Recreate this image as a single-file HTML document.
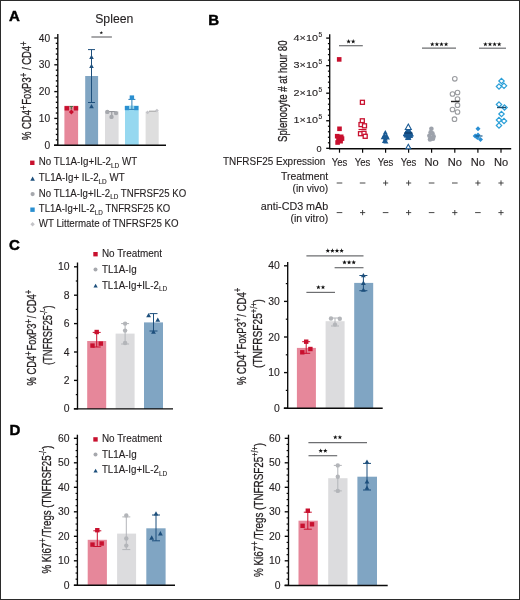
<!DOCTYPE html>
<html><head><meta charset="utf-8"><style>
html,body{margin:0;padding:0;background:#fff;}
svg{display:block;font-family:"Liberation Sans", sans-serif;will-change:transform;}
</style></head><body>
<svg width="520" height="600" viewBox="0 0 520 600">
<rect x="0" y="0" width="520" height="600" fill="#ffffff"/>
<rect x="64.40" y="105.80" width="13.70" height="39.20" fill="#e6879a"/>
<rect x="85.20" y="76.00" width="12.90" height="69.00" fill="#80a5c3"/>
<rect x="105.00" y="111.40" width="13.60" height="33.60" fill="#dcdcde"/>
<rect x="125.00" y="105.60" width="13.70" height="39.40" fill="#96d8f0"/>
<rect x="145.60" y="111.60" width="13.10" height="33.40" fill="#dedede"/>
<rect x="87.20" y="341.00" width="19.00" height="68.00" fill="#e6879a"/>
<rect x="115.60" y="333.60" width="19.00" height="75.40" fill="#dcdcde"/>
<rect x="144.00" y="322.40" width="19.00" height="86.60" fill="#80a5c3"/>
<rect x="296.90" y="347.90" width="19.00" height="60.70" fill="#e6879a"/>
<rect x="325.60" y="321.20" width="19.00" height="87.40" fill="#dcdcde"/>
<rect x="354.20" y="282.90" width="19.00" height="125.70" fill="#80a5c3"/>
<rect x="87.70" y="539.80" width="19.20" height="45.40" fill="#e6879a"/>
<rect x="117.10" y="533.60" width="19.00" height="51.60" fill="#dcdcde"/>
<rect x="146.30" y="528.30" width="19.30" height="56.90" fill="#80a5c3"/>
<rect x="298.50" y="520.70" width="19.30" height="64.50" fill="#e6879a"/>
<rect x="328.20" y="478.20" width="19.30" height="107.00" fill="#dcdcde"/>
<rect x="357.40" y="476.70" width="19.60" height="108.50" fill="#80a5c3"/>
<text x="9.00" y="21.00" font-size="15.0" font-weight="bold" fill="#000" stroke="#000" stroke-width="0.45">A</text>
<text x="95.20" y="23.20" font-size="13" textLength="38.20" lengthAdjust="spacingAndGlyphs" fill="#231f20"  stroke="#231f20" stroke-width="0.12">Spleen</text>
<line x1="57.80" y1="34.00" x2="57.80" y2="145.80" stroke="#0a0a0a" stroke-width="1.35" />
<line x1="54.30" y1="145.20" x2="57.80" y2="145.20" stroke="#0a0a0a" stroke-width="1.35" />
<line x1="54.30" y1="118.40" x2="57.80" y2="118.40" stroke="#0a0a0a" stroke-width="1.35" />
<line x1="54.30" y1="91.60" x2="57.80" y2="91.60" stroke="#0a0a0a" stroke-width="1.35" />
<line x1="54.30" y1="64.80" x2="57.80" y2="64.80" stroke="#0a0a0a" stroke-width="1.35" />
<line x1="54.30" y1="38.00" x2="57.80" y2="38.00" stroke="#0a0a0a" stroke-width="1.35" />
<line x1="55.80" y1="139.84" x2="57.80" y2="139.84" stroke="#0a0a0a" stroke-width="1.35" />
<line x1="55.80" y1="134.48" x2="57.80" y2="134.48" stroke="#0a0a0a" stroke-width="1.35" />
<line x1="55.80" y1="129.12" x2="57.80" y2="129.12" stroke="#0a0a0a" stroke-width="1.35" />
<line x1="55.80" y1="123.76" x2="57.80" y2="123.76" stroke="#0a0a0a" stroke-width="1.35" />
<line x1="55.80" y1="113.04" x2="57.80" y2="113.04" stroke="#0a0a0a" stroke-width="1.35" />
<line x1="55.80" y1="107.68" x2="57.80" y2="107.68" stroke="#0a0a0a" stroke-width="1.35" />
<line x1="55.80" y1="102.32" x2="57.80" y2="102.32" stroke="#0a0a0a" stroke-width="1.35" />
<line x1="55.80" y1="96.96" x2="57.80" y2="96.96" stroke="#0a0a0a" stroke-width="1.35" />
<line x1="55.80" y1="86.24" x2="57.80" y2="86.24" stroke="#0a0a0a" stroke-width="1.35" />
<line x1="55.80" y1="80.88" x2="57.80" y2="80.88" stroke="#0a0a0a" stroke-width="1.35" />
<line x1="55.80" y1="75.52" x2="57.80" y2="75.52" stroke="#0a0a0a" stroke-width="1.35" />
<line x1="55.80" y1="70.16" x2="57.80" y2="70.16" stroke="#0a0a0a" stroke-width="1.35" />
<line x1="55.80" y1="59.44" x2="57.80" y2="59.44" stroke="#0a0a0a" stroke-width="1.35" />
<line x1="55.80" y1="54.08" x2="57.80" y2="54.08" stroke="#0a0a0a" stroke-width="1.35" />
<line x1="55.80" y1="48.72" x2="57.80" y2="48.72" stroke="#0a0a0a" stroke-width="1.35" />
<line x1="55.80" y1="43.36" x2="57.80" y2="43.36" stroke="#0a0a0a" stroke-width="1.35" />
<text x="50.20" y="148.80" font-size="10.2" text-anchor="end" fill="#231f20"  stroke="#231f20" stroke-width="0.12">0</text>
<text x="50.20" y="122.00" font-size="10.2" text-anchor="end" fill="#231f20"  stroke="#231f20" stroke-width="0.12">10</text>
<text x="50.20" y="95.20" font-size="10.2" text-anchor="end" fill="#231f20"  stroke="#231f20" stroke-width="0.12">20</text>
<text x="50.20" y="68.40" font-size="10.2" text-anchor="end" fill="#231f20"  stroke="#231f20" stroke-width="0.12">30</text>
<text x="50.20" y="41.60" font-size="10.2" text-anchor="end" fill="#231f20"  stroke="#231f20" stroke-width="0.12">40</text>
<line x1="54.00" y1="145.30" x2="166.00" y2="145.30" stroke="#0a0a0a" stroke-width="1.5" />
<line x1="71.30" y1="106.20" x2="71.30" y2="109.50" stroke="#3c6e3c" stroke-width="1.0" />
<line x1="69.50" y1="106.50" x2="73.10" y2="106.50" stroke="#3c6e3c" stroke-width="0.9" />
<rect x="64.60" y="106.10" width="4.40" height="4.40" fill="#c8102e" />
<rect x="73.80" y="106.10" width="4.40" height="4.40" fill="#c8102e" />
<polygon points="71.40,109.50 73.90,112.00 71.40,114.50 68.90,112.00" fill="#c8102e"/>
<line x1="91.50" y1="49.60" x2="91.50" y2="102.50" stroke="#1d4f7c" stroke-width="1.0" />
<line x1="88.00" y1="49.60" x2="95.00" y2="49.60" stroke="#1d4f7c" stroke-width="1.0" />
<line x1="88.00" y1="102.50" x2="95.00" y2="102.50" stroke="#1d4f7c" stroke-width="1.0" />
<polygon points="91.50,54.82 93.80,58.96 89.20,58.96" fill="#1d4f7c"/>
<polygon points="91.50,63.82 93.80,67.96 89.20,67.96" fill="#1d4f7c"/>
<polygon points="91.50,104.02 93.80,108.16 89.20,108.16" fill="#1d4f7c"/>
<line x1="108.50" y1="111.60" x2="115.50" y2="111.60" stroke="#8d8f94" stroke-width="1.0" />
<line x1="111.80" y1="111.60" x2="111.80" y2="115.50" stroke="#8d8f94" stroke-width="1.0" />
<circle cx="107.30" cy="111.90" r="2.20" fill="#a6a8ad"/>
<circle cx="116.00" cy="113.10" r="2.20" fill="#a6a8ad"/>
<circle cx="111.50" cy="116.90" r="2.20" fill="#a6a8ad"/>
<line x1="131.90" y1="99.40" x2="131.90" y2="109.40" stroke="#2f7fb5" stroke-width="1.0" />
<line x1="128.40" y1="99.40" x2="135.40" y2="99.40" stroke="#2f7fb5" stroke-width="1.0" />
<line x1="128.40" y1="109.40" x2="135.40" y2="109.40" stroke="#2f7fb5" stroke-width="1.0" />
<rect x="129.70" y="95.40" width="4.40" height="4.40" fill="#2a8fd0" />
<rect x="124.80" y="106.00" width="4.20" height="4.20" fill="#2a8fd0" />
<rect x="134.20" y="106.00" width="4.20" height="4.20" fill="#2a8fd0" />
<line x1="149.00" y1="111.20" x2="156.00" y2="111.20" stroke="#9a9a9a" stroke-width="1.0" />
<polygon points="147.60,110.50 149.50,112.40 147.60,114.30 145.70,112.40" fill="#c4c4c8"/>
<polygon points="156.90,108.70 158.80,110.60 156.90,112.50 155.00,110.60" fill="#c4c4c8"/>
<line x1="91.40" y1="37.00" x2="111.90" y2="37.00" stroke="#6d6e71" stroke-width="1.2" />
<polygon points="101.30,30.90 101.77,32.15 103.11,32.21 102.06,33.05 102.42,34.34 101.30,33.60 100.18,34.34 100.54,33.05 99.49,32.21 100.83,32.15" fill="#111"/>
<rect x="30.10" y="160.60" width="4.40" height="4.40" fill="#c8102e" />
<polygon points="32.60,176.52 34.90,180.66 30.30,180.66" fill="#1d4f7c"/>
<circle cx="32.60" cy="194.10" r="2.10" fill="#a6a8ad"/>
<rect x="30.30" y="207.50" width="4.40" height="4.40" fill="#2a8fd0" />
<polygon points="32.60,222.10 34.80,224.30 32.60,226.50 30.40,224.30" fill="#c4c4c8"/>
<text x="38.80" y="165.40" font-size="10.0" textLength="98.30" lengthAdjust="spacingAndGlyphs" fill="#231f20"  stroke="#231f20" stroke-width="0.12">No TL1A-Ig+IL-2<tspan dy="2.6" font-size="6.6">LD</tspan><tspan dy="-2.6"> </tspan>WT</text>
<text x="38.80" y="181.00" font-size="10.0" textLength="85.80" lengthAdjust="spacingAndGlyphs" fill="#231f20"  stroke="#231f20" stroke-width="0.12">TL1A-Ig+ IL-2<tspan dy="2.6" font-size="6.6">LD</tspan><tspan dy="-2.6"> </tspan>WT</text>
<text x="38.80" y="196.70" font-size="10.0" textLength="147.40" lengthAdjust="spacingAndGlyphs" fill="#231f20"  stroke="#231f20" stroke-width="0.12">No TL1A-Ig+IL-2<tspan dy="2.6" font-size="6.6">LD</tspan><tspan dy="-2.6"> </tspan>TNFRSF25 KO</text>
<text x="38.80" y="212.30" font-size="10.0" textLength="131.40" lengthAdjust="spacingAndGlyphs" fill="#231f20"  stroke="#231f20" stroke-width="0.12">TL1A-Ig+IL-2<tspan dy="2.6" font-size="6.6">LD</tspan><tspan dy="-2.6"> </tspan>TNFRSF25 KO</text>
<text x="38.80" y="227.10" font-size="10.0" textLength="139.80" lengthAdjust="spacingAndGlyphs" fill="#231f20"  stroke="#231f20" stroke-width="0.12">WT Littermate of TNFRSF25 KO</text>
<text transform="translate(30.60,140.00) rotate(-90)" font-size="12.6" textLength="99.50" lengthAdjust="spacingAndGlyphs" fill="#231f20"  stroke="#231f20" stroke-width="0.3">% CD4<tspan dy="-4.0" font-size="10.5">+</tspan><tspan dy="4.0"> </tspan>FoxP3<tspan dy="-4.0" font-size="10.5">+</tspan><tspan dy="4.0"> </tspan>/ CD4<tspan dy="-4.0" font-size="10.5">+</tspan><tspan dy="4.0"> </tspan></text>
<text x="208.30" y="24.60" font-size="15.0" font-weight="bold" fill="#000" stroke="#000" stroke-width="0.45">B</text>
<line x1="329.70" y1="34.20" x2="329.70" y2="148.90" stroke="#0a0a0a" stroke-width="1.35" />
<line x1="326.20" y1="148.30" x2="329.70" y2="148.30" stroke="#0a0a0a" stroke-width="1.35" />
<line x1="326.20" y1="120.75" x2="329.70" y2="120.75" stroke="#0a0a0a" stroke-width="1.35" />
<line x1="326.20" y1="93.20" x2="329.70" y2="93.20" stroke="#0a0a0a" stroke-width="1.35" />
<line x1="326.20" y1="65.65" x2="329.70" y2="65.65" stroke="#0a0a0a" stroke-width="1.35" />
<line x1="326.20" y1="38.10" x2="329.70" y2="38.10" stroke="#0a0a0a" stroke-width="1.35" />
<line x1="327.90" y1="142.79" x2="329.70" y2="142.79" stroke="#0a0a0a" stroke-width="1.2" />
<line x1="327.90" y1="137.28" x2="329.70" y2="137.28" stroke="#0a0a0a" stroke-width="1.2" />
<line x1="327.90" y1="131.77" x2="329.70" y2="131.77" stroke="#0a0a0a" stroke-width="1.2" />
<line x1="327.90" y1="126.26" x2="329.70" y2="126.26" stroke="#0a0a0a" stroke-width="1.2" />
<line x1="327.90" y1="115.24" x2="329.70" y2="115.24" stroke="#0a0a0a" stroke-width="1.2" />
<line x1="327.90" y1="109.73" x2="329.70" y2="109.73" stroke="#0a0a0a" stroke-width="1.2" />
<line x1="327.90" y1="104.22" x2="329.70" y2="104.22" stroke="#0a0a0a" stroke-width="1.2" />
<line x1="327.90" y1="98.71" x2="329.70" y2="98.71" stroke="#0a0a0a" stroke-width="1.2" />
<line x1="327.90" y1="87.69" x2="329.70" y2="87.69" stroke="#0a0a0a" stroke-width="1.2" />
<line x1="327.90" y1="82.18" x2="329.70" y2="82.18" stroke="#0a0a0a" stroke-width="1.2" />
<line x1="327.90" y1="76.67" x2="329.70" y2="76.67" stroke="#0a0a0a" stroke-width="1.2" />
<line x1="327.90" y1="71.16" x2="329.70" y2="71.16" stroke="#0a0a0a" stroke-width="1.2" />
<line x1="327.90" y1="60.14" x2="329.70" y2="60.14" stroke="#0a0a0a" stroke-width="1.2" />
<line x1="327.90" y1="54.63" x2="329.70" y2="54.63" stroke="#0a0a0a" stroke-width="1.2" />
<line x1="327.90" y1="49.12" x2="329.70" y2="49.12" stroke="#0a0a0a" stroke-width="1.2" />
<line x1="327.90" y1="43.61" x2="329.70" y2="43.61" stroke="#0a0a0a" stroke-width="1.2" />
<text x="293.60" y="123.15" font-size="9.6" textLength="24.30" lengthAdjust="spacingAndGlyphs" fill="#231f20"  stroke="#231f20" stroke-width="0.12">1×10</text>
<text x="318.40" y="119.35" font-size="6.4" textLength="3.70" lengthAdjust="spacingAndGlyphs" fill="#231f20"  stroke="#231f20" stroke-width="0.12">5</text>
<text x="293.60" y="95.60" font-size="9.6" textLength="24.30" lengthAdjust="spacingAndGlyphs" fill="#231f20"  stroke="#231f20" stroke-width="0.12">2×10</text>
<text x="318.40" y="91.80" font-size="6.4" textLength="3.70" lengthAdjust="spacingAndGlyphs" fill="#231f20"  stroke="#231f20" stroke-width="0.12">5</text>
<text x="293.60" y="68.05" font-size="9.6" textLength="24.30" lengthAdjust="spacingAndGlyphs" fill="#231f20"  stroke="#231f20" stroke-width="0.12">3×10</text>
<text x="318.40" y="64.25" font-size="6.4" textLength="3.70" lengthAdjust="spacingAndGlyphs" fill="#231f20"  stroke="#231f20" stroke-width="0.12">5</text>
<text x="293.60" y="40.50" font-size="9.6" textLength="24.30" lengthAdjust="spacingAndGlyphs" fill="#231f20"  stroke="#231f20" stroke-width="0.12">4×10</text>
<text x="318.40" y="36.70" font-size="6.4" textLength="3.70" lengthAdjust="spacingAndGlyphs" fill="#231f20"  stroke="#231f20" stroke-width="0.12">5</text>
<text x="321.60" y="151.50" font-size="9.2" text-anchor="end" fill="#231f20"  stroke="#231f20" stroke-width="0.12">0</text>
<line x1="329.10" y1="148.70" x2="511.20" y2="148.70" stroke="#0a0a0a" stroke-width="1.45" />
<line x1="339.50" y1="148.70" x2="339.50" y2="152.70" stroke="#0a0a0a" stroke-width="1.2" />
<line x1="362.60" y1="148.70" x2="362.60" y2="152.70" stroke="#0a0a0a" stroke-width="1.2" />
<line x1="385.60" y1="148.70" x2="385.60" y2="152.70" stroke="#0a0a0a" stroke-width="1.2" />
<line x1="408.60" y1="148.70" x2="408.60" y2="152.70" stroke="#0a0a0a" stroke-width="1.2" />
<line x1="431.60" y1="148.70" x2="431.60" y2="152.70" stroke="#0a0a0a" stroke-width="1.2" />
<line x1="454.80" y1="148.70" x2="454.80" y2="152.70" stroke="#0a0a0a" stroke-width="1.2" />
<line x1="477.90" y1="148.70" x2="477.90" y2="152.70" stroke="#0a0a0a" stroke-width="1.2" />
<line x1="501.00" y1="148.70" x2="501.00" y2="152.70" stroke="#0a0a0a" stroke-width="1.2" />
<text transform="translate(287.00,142.00) rotate(-90)" font-size="13.0" textLength="101.50" lengthAdjust="spacingAndGlyphs" fill="#231f20"  stroke="#231f20" stroke-width="0.3">Splenocyte # at hour 80</text>
<line x1="339.00" y1="45.70" x2="362.80" y2="45.70" stroke="#6d6e71" stroke-width="1.2" />
<polygon points="348.60,39.10 349.19,40.68 350.88,40.76 349.56,41.81 350.01,43.44 348.60,42.51 347.19,43.44 347.64,41.81 346.32,40.76 348.01,40.68" fill="#111"/>
<polygon points="353.20,39.10 353.79,40.68 355.48,40.76 354.16,41.81 354.61,43.44 353.20,42.51 351.79,43.44 352.24,41.81 350.92,40.76 352.61,40.68" fill="#111"/>
<line x1="422.00" y1="48.20" x2="456.00" y2="48.20" stroke="#6d6e71" stroke-width="1.2" />
<polygon points="432.30,41.90 432.89,43.48 434.58,43.56 433.26,44.61 433.71,46.24 432.30,45.31 430.89,46.24 431.34,44.61 430.02,43.56 431.71,43.48" fill="#111"/>
<polygon points="436.90,41.90 437.49,43.48 439.18,43.56 437.86,44.61 438.31,46.24 436.90,45.31 435.49,46.24 435.94,44.61 434.62,43.56 436.31,43.48" fill="#111"/>
<polygon points="441.50,41.90 442.09,43.48 443.78,43.56 442.46,44.61 442.91,46.24 441.50,45.31 440.09,46.24 440.54,44.61 439.22,43.56 440.91,43.48" fill="#111"/>
<polygon points="446.10,41.90 446.69,43.48 448.38,43.56 447.06,44.61 447.51,46.24 446.10,45.31 444.69,46.24 445.14,44.61 443.82,43.56 445.51,43.48" fill="#111"/>
<line x1="479.00" y1="48.20" x2="506.00" y2="48.20" stroke="#6d6e71" stroke-width="1.2" />
<polygon points="485.40,41.90 485.99,43.48 487.68,43.56 486.36,44.61 486.81,46.24 485.40,45.31 483.99,46.24 484.44,44.61 483.12,43.56 484.81,43.48" fill="#111"/>
<polygon points="490.00,41.90 490.59,43.48 492.28,43.56 490.96,44.61 491.41,46.24 490.00,45.31 488.59,46.24 489.04,44.61 487.72,43.56 489.41,43.48" fill="#111"/>
<polygon points="494.60,41.90 495.19,43.48 496.88,43.56 495.56,44.61 496.01,46.24 494.60,45.31 493.19,46.24 493.64,44.61 492.32,43.56 494.01,43.48" fill="#111"/>
<polygon points="499.20,41.90 499.79,43.48 501.48,43.56 500.16,44.61 500.61,46.24 499.20,45.31 497.79,46.24 498.24,44.61 496.92,43.56 498.61,43.48" fill="#111"/>
<rect x="337.20" y="126.50" width="4.60" height="4.60" fill="#c8102e" />
<rect x="334.90" y="133.90" width="4.60" height="4.60" fill="#c8102e" />
<rect x="338.90" y="134.50" width="4.60" height="4.60" fill="#c8102e" />
<rect x="336.20" y="136.90" width="4.60" height="4.60" fill="#c8102e" />
<rect x="338.30" y="138.90" width="4.60" height="4.60" fill="#c8102e" />
<rect x="335.30" y="140.20" width="4.60" height="4.60" fill="#c8102e" />
<rect x="339.70" y="136.30" width="4.60" height="4.60" fill="#c8102e" />
<rect x="336.90" y="57.10" width="4.60" height="4.60" fill="#c8102e" />
<rect x="360.40" y="100.30" width="4.00" height="4.00" fill="#fff" stroke="#c8102e" stroke-width="1.3"/>
<rect x="360.30" y="118.80" width="4.00" height="4.00" fill="#fff" stroke="#c8102e" stroke-width="1.3"/>
<rect x="359.00" y="122.60" width="4.00" height="4.00" fill="#fff" stroke="#c8102e" stroke-width="1.3"/>
<rect x="362.50" y="123.80" width="4.00" height="4.00" fill="#fff" stroke="#c8102e" stroke-width="1.3"/>
<rect x="358.50" y="131.70" width="4.00" height="4.00" fill="#fff" stroke="#c8102e" stroke-width="1.3"/>
<rect x="362.00" y="131.30" width="4.00" height="4.00" fill="#fff" stroke="#c8102e" stroke-width="1.3"/>
<rect x="363.20" y="134.30" width="4.00" height="4.00" fill="#fff" stroke="#c8102e" stroke-width="1.3"/>
<line x1="358.50" y1="129.50" x2="366.50" y2="129.50" stroke="#c8102e" stroke-width="1.2" />
<polygon points="385.30,129.90 387.80,134.40 382.80,134.40" fill="#1a5a94"/>
<polygon points="384.30,132.90 386.80,137.40 381.80,137.40" fill="#1a5a94"/>
<polygon points="386.40,133.20 388.90,137.70 383.90,137.70" fill="#1a5a94"/>
<polygon points="385.30,135.90 387.80,140.40 382.80,140.40" fill="#1a5a94"/>
<polygon points="384.40,138.50 386.90,143.00 381.90,143.00" fill="#1a5a94"/>
<polygon points="385.90,138.90 388.40,143.40 383.40,143.40" fill="#1a5a94"/>
<polygon points="383.20,134.80 385.70,139.30 380.70,139.30" fill="#1a5a94"/>
<polygon points="387.40,135.10 389.90,139.60 384.90,139.60" fill="#1a5a94"/>
<polygon points="407.30,128.68 410.00,133.54 404.60,133.54" fill="#1a5a94" stroke="#1a5a94" stroke-width="1.0" stroke-linejoin="miter"/>
<polygon points="409.50,129.28 412.20,134.14 406.80,134.14" fill="#1a5a94" stroke="#1a5a94" stroke-width="1.0" stroke-linejoin="miter"/>
<polygon points="407.00,132.28 409.70,137.14 404.30,137.14" fill="#1a5a94" stroke="#1a5a94" stroke-width="1.0" stroke-linejoin="miter"/>
<polygon points="409.80,132.68 412.50,137.54 407.10,137.54" fill="#1a5a94" stroke="#1a5a94" stroke-width="1.0" stroke-linejoin="miter"/>
<polygon points="408.20,134.68 410.90,139.54 405.50,139.54" fill="#1a5a94" stroke="#1a5a94" stroke-width="1.0" stroke-linejoin="miter"/>
<polygon points="406.00,131.08 408.70,135.94 403.30,135.94" fill="#1a5a94" stroke="#1a5a94" stroke-width="1.0" stroke-linejoin="miter"/>
<polygon points="410.60,131.28 413.30,136.14 407.90,136.14" fill="#1a5a94" stroke="#1a5a94" stroke-width="1.0" stroke-linejoin="miter"/>
<polygon points="408.30,124.06 411.30,129.46 405.30,129.46" fill="#fff" stroke="#1a5a94" stroke-width="1.1" stroke-linejoin="miter"/>
<polygon points="408.30,144.30 410.80,148.80 405.80,148.80" fill="#fff" stroke="#1a5a94" stroke-width="1.1" stroke-linejoin="miter"/>
<line x1="404.50" y1="133.00" x2="412.50" y2="133.00" stroke="#0e3a66" stroke-width="1.2" />
<circle cx="431.40" cy="128.80" r="2.30" fill="#9da2ab"/>
<circle cx="430.60" cy="132.40" r="2.30" fill="#9da2ab"/>
<circle cx="432.40" cy="133.20" r="2.30" fill="#9da2ab"/>
<circle cx="429.40" cy="135.80" r="2.30" fill="#9da2ab"/>
<circle cx="433.60" cy="136.40" r="2.30" fill="#9da2ab"/>
<circle cx="431.00" cy="138.40" r="2.30" fill="#9da2ab"/>
<circle cx="433.00" cy="138.80" r="2.30" fill="#9da2ab"/>
<circle cx="430.00" cy="139.40" r="2.30" fill="#9da2ab"/>
<circle cx="454.80" cy="78.80" r="2.30" fill="#fff" stroke="#9a9ca0" stroke-width="1.1"/>
<circle cx="452.50" cy="94.00" r="2.30" fill="#fff" stroke="#9a9ca0" stroke-width="1.1"/>
<circle cx="457.50" cy="92.50" r="2.30" fill="#fff" stroke="#9a9ca0" stroke-width="1.1"/>
<circle cx="457.50" cy="99.00" r="2.30" fill="#fff" stroke="#9a9ca0" stroke-width="1.1"/>
<circle cx="457.50" cy="105.20" r="2.30" fill="#fff" stroke="#9a9ca0" stroke-width="1.1"/>
<circle cx="452.50" cy="109.50" r="2.30" fill="#fff" stroke="#9a9ca0" stroke-width="1.1"/>
<circle cx="457.50" cy="112.00" r="2.30" fill="#fff" stroke="#9a9ca0" stroke-width="1.1"/>
<circle cx="454.50" cy="119.20" r="2.30" fill="#fff" stroke="#9a9ca0" stroke-width="1.1"/>
<line x1="451.00" y1="101.50" x2="459.50" y2="101.50" stroke="#222" stroke-width="1.4" />
<polygon points="478.00,126.20 480.50,128.70 478.00,131.20 475.50,128.70" fill="#2a8fd4"/>
<polygon points="475.20,133.50 477.70,136.00 475.20,138.50 472.70,136.00" fill="#2a8fd4"/>
<polygon points="478.00,132.60 480.50,135.10 478.00,137.60 475.50,135.10" fill="#2a8fd4"/>
<polygon points="480.50,137.00 483.00,139.50 480.50,142.00 478.00,139.50" fill="#2a8fd4"/>
<polygon points="477.40,135.10 479.90,137.60 477.40,140.10 474.90,137.60" fill="#2a8fd4"/>
<line x1="475.50" y1="136.00" x2="482.50" y2="136.00" stroke="#1b5d8c" stroke-width="1.2" />
<polygon points="501.50,78.30 504.20,81.00 501.50,83.70 498.80,81.00" fill="#fff" stroke="#2a9fd8" stroke-width="1.2"/>
<polygon points="499.00,83.80 501.70,86.50 499.00,89.20 496.30,86.50" fill="#fff" stroke="#2a9fd8" stroke-width="1.2"/>
<polygon points="504.00,83.10 506.70,85.80 504.00,88.50 501.30,85.80" fill="#fff" stroke="#2a9fd8" stroke-width="1.2"/>
<polygon points="499.00,101.80 501.70,104.50 499.00,107.20 496.30,104.50" fill="#fff" stroke="#2a9fd8" stroke-width="1.2"/>
<polygon points="504.50,104.80 507.20,107.50 504.50,110.20 501.80,107.50" fill="#fff" stroke="#2a9fd8" stroke-width="1.2"/>
<polygon points="501.50,111.30 504.20,114.00 501.50,116.70 498.80,114.00" fill="#fff" stroke="#2a9fd8" stroke-width="1.2"/>
<polygon points="499.00,117.30 501.70,120.00 499.00,122.70 496.30,120.00" fill="#fff" stroke="#2a9fd8" stroke-width="1.2"/>
<polygon points="504.00,118.30 506.70,121.00 504.00,123.70 501.30,121.00" fill="#fff" stroke="#2a9fd8" stroke-width="1.2"/>
<polygon points="499.00,122.80 501.70,125.50 499.00,128.20 496.30,125.50" fill="#fff" stroke="#2a9fd8" stroke-width="1.2"/>
<line x1="497.00" y1="107.50" x2="506.00" y2="107.50" stroke="#1b4f70" stroke-width="1.4" />
<text x="339.50" y="165.60" font-size="10.2" text-anchor="middle" textLength="15.60" lengthAdjust="spacingAndGlyphs" fill="#231f20"  stroke="#231f20" stroke-width="0.12">Yes</text>
<text x="362.60" y="165.60" font-size="10.2" text-anchor="middle" textLength="15.60" lengthAdjust="spacingAndGlyphs" fill="#231f20"  stroke="#231f20" stroke-width="0.12">Yes</text>
<text x="385.60" y="165.60" font-size="10.2" text-anchor="middle" textLength="15.60" lengthAdjust="spacingAndGlyphs" fill="#231f20"  stroke="#231f20" stroke-width="0.12">Yes</text>
<text x="408.60" y="165.60" font-size="10.2" text-anchor="middle" textLength="15.60" lengthAdjust="spacingAndGlyphs" fill="#231f20"  stroke="#231f20" stroke-width="0.12">Yes</text>
<text x="431.60" y="165.60" font-size="10.2" text-anchor="middle" textLength="14.20" lengthAdjust="spacingAndGlyphs" fill="#231f20"  stroke="#231f20" stroke-width="0.12">No</text>
<text x="454.80" y="165.60" font-size="10.2" text-anchor="middle" textLength="14.20" lengthAdjust="spacingAndGlyphs" fill="#231f20"  stroke="#231f20" stroke-width="0.12">No</text>
<text x="477.90" y="165.60" font-size="10.2" text-anchor="middle" textLength="14.20" lengthAdjust="spacingAndGlyphs" fill="#231f20"  stroke="#231f20" stroke-width="0.12">No</text>
<text x="501.00" y="165.60" font-size="10.2" text-anchor="middle" textLength="14.20" lengthAdjust="spacingAndGlyphs" fill="#231f20"  stroke="#231f20" stroke-width="0.12">No</text>
<text x="325.20" y="165.40" font-size="10.2" text-anchor="end" textLength="102.20" lengthAdjust="spacingAndGlyphs" fill="#231f20"  stroke="#231f20" stroke-width="0.12">TNFRSF25 Expression</text>
<text x="328.20" y="179.60" font-size="10.2" text-anchor="end" textLength="47.30" lengthAdjust="spacingAndGlyphs" fill="#231f20"  stroke="#231f20" stroke-width="0.12">Treatment</text>
<text x="328.20" y="191.90" font-size="10.2" text-anchor="end" textLength="35.60" lengthAdjust="spacingAndGlyphs" fill="#231f20"  stroke="#231f20" stroke-width="0.12">(in vivo)</text>
<text x="328.20" y="209.80" font-size="10.2" text-anchor="end" textLength="67.40" lengthAdjust="spacingAndGlyphs" fill="#231f20"  stroke="#231f20" stroke-width="0.12">anti-CD3 mAb</text>
<text x="328.20" y="221.60" font-size="10.2" text-anchor="end" textLength="37.70" lengthAdjust="spacingAndGlyphs" fill="#231f20"  stroke="#231f20" stroke-width="0.12">(in vitro)</text>
<line x1="336.70" y1="183.00" x2="342.30" y2="183.00" stroke="#333" stroke-width="0.9" />
<line x1="336.70" y1="212.60" x2="342.30" y2="212.60" stroke="#333" stroke-width="0.9" />
<line x1="359.80" y1="183.00" x2="365.40" y2="183.00" stroke="#333" stroke-width="0.9" />
<line x1="360.00" y1="212.60" x2="365.20" y2="212.60" stroke="#333" stroke-width="0.9" />
<line x1="362.60" y1="210.00" x2="362.60" y2="215.20" stroke="#333" stroke-width="0.9" />
<line x1="383.00" y1="183.00" x2="388.20" y2="183.00" stroke="#333" stroke-width="0.9" />
<line x1="385.60" y1="180.40" x2="385.60" y2="185.60" stroke="#333" stroke-width="0.9" />
<line x1="382.80" y1="212.60" x2="388.40" y2="212.60" stroke="#333" stroke-width="0.9" />
<line x1="406.00" y1="183.00" x2="411.20" y2="183.00" stroke="#333" stroke-width="0.9" />
<line x1="408.60" y1="180.40" x2="408.60" y2="185.60" stroke="#333" stroke-width="0.9" />
<line x1="406.00" y1="212.60" x2="411.20" y2="212.60" stroke="#333" stroke-width="0.9" />
<line x1="408.60" y1="210.00" x2="408.60" y2="215.20" stroke="#333" stroke-width="0.9" />
<line x1="428.80" y1="183.00" x2="434.40" y2="183.00" stroke="#333" stroke-width="0.9" />
<line x1="428.80" y1="212.60" x2="434.40" y2="212.60" stroke="#333" stroke-width="0.9" />
<line x1="452.00" y1="183.00" x2="457.60" y2="183.00" stroke="#333" stroke-width="0.9" />
<line x1="452.20" y1="212.60" x2="457.40" y2="212.60" stroke="#333" stroke-width="0.9" />
<line x1="454.80" y1="210.00" x2="454.80" y2="215.20" stroke="#333" stroke-width="0.9" />
<line x1="475.30" y1="183.00" x2="480.50" y2="183.00" stroke="#333" stroke-width="0.9" />
<line x1="477.90" y1="180.40" x2="477.90" y2="185.60" stroke="#333" stroke-width="0.9" />
<line x1="475.10" y1="212.60" x2="480.70" y2="212.60" stroke="#333" stroke-width="0.9" />
<line x1="498.40" y1="183.00" x2="503.60" y2="183.00" stroke="#333" stroke-width="0.9" />
<line x1="501.00" y1="180.40" x2="501.00" y2="185.60" stroke="#333" stroke-width="0.9" />
<line x1="498.40" y1="212.60" x2="503.60" y2="212.60" stroke="#333" stroke-width="0.9" />
<line x1="501.00" y1="210.00" x2="501.00" y2="215.20" stroke="#333" stroke-width="0.9" />
<text x="9.00" y="250.40" font-size="15.0" font-weight="bold" fill="#000" stroke="#000" stroke-width="0.45">C</text>
<line x1="77.50" y1="262.50" x2="77.50" y2="409.40" stroke="#0a0a0a" stroke-width="1.35" />
<line x1="74.00" y1="408.80" x2="77.50" y2="408.80" stroke="#0a0a0a" stroke-width="1.35" />
<line x1="74.00" y1="380.40" x2="77.50" y2="380.40" stroke="#0a0a0a" stroke-width="1.35" />
<line x1="74.00" y1="352.00" x2="77.50" y2="352.00" stroke="#0a0a0a" stroke-width="1.35" />
<line x1="74.00" y1="323.60" x2="77.50" y2="323.60" stroke="#0a0a0a" stroke-width="1.35" />
<line x1="74.00" y1="295.20" x2="77.50" y2="295.20" stroke="#0a0a0a" stroke-width="1.35" />
<line x1="74.00" y1="266.80" x2="77.50" y2="266.80" stroke="#0a0a0a" stroke-width="1.35" />
<line x1="75.80" y1="394.60" x2="77.50" y2="394.60" stroke="#0a0a0a" stroke-width="1.2" />
<line x1="75.80" y1="366.20" x2="77.50" y2="366.20" stroke="#0a0a0a" stroke-width="1.2" />
<line x1="75.80" y1="337.80" x2="77.50" y2="337.80" stroke="#0a0a0a" stroke-width="1.2" />
<line x1="75.80" y1="309.40" x2="77.50" y2="309.40" stroke="#0a0a0a" stroke-width="1.2" />
<line x1="75.80" y1="281.00" x2="77.50" y2="281.00" stroke="#0a0a0a" stroke-width="1.2" />
<text x="69.60" y="412.30" font-size="10.4" text-anchor="end" fill="#231f20"  stroke="#231f20" stroke-width="0.12">0</text>
<text x="69.60" y="383.90" font-size="10.4" text-anchor="end" fill="#231f20"  stroke="#231f20" stroke-width="0.12">2</text>
<text x="69.60" y="355.50" font-size="10.4" text-anchor="end" fill="#231f20"  stroke="#231f20" stroke-width="0.12">4</text>
<text x="69.60" y="327.10" font-size="10.4" text-anchor="end" fill="#231f20"  stroke="#231f20" stroke-width="0.12">6</text>
<text x="69.60" y="298.70" font-size="10.4" text-anchor="end" fill="#231f20"  stroke="#231f20" stroke-width="0.12">8</text>
<text x="69.60" y="270.30" font-size="10.4" text-anchor="end" fill="#231f20"  stroke="#231f20" stroke-width="0.12">10</text>
<line x1="73.80" y1="408.85" x2="173.00" y2="408.85" stroke="#0a0a0a" stroke-width="1.45" />
<line x1="96.70" y1="332.40" x2="96.70" y2="347.00" stroke="#c8102e" stroke-width="1.0" />
<line x1="92.70" y1="332.40" x2="100.70" y2="332.40" stroke="#c8102e" stroke-width="1.0" />
<line x1="92.70" y1="347.00" x2="100.70" y2="347.00" stroke="#c8102e" stroke-width="1.0" />
<rect x="94.50" y="329.80" width="4.40" height="4.40" fill="#c8102e" />
<rect x="90.30" y="343.40" width="4.40" height="4.40" fill="#c8102e" />
<rect x="98.60" y="341.40" width="4.40" height="4.40" fill="#c8102e" />
<line x1="125.10" y1="323.60" x2="125.10" y2="344.00" stroke="#b3b5b9" stroke-width="1.0" />
<line x1="121.10" y1="323.60" x2="129.10" y2="323.60" stroke="#b3b5b9" stroke-width="1.0" />
<line x1="121.10" y1="344.00" x2="129.10" y2="344.00" stroke="#b3b5b9" stroke-width="1.0" />
<circle cx="125.10" cy="323.60" r="2.20" fill="#b3b5b9"/>
<circle cx="125.10" cy="330.60" r="2.20" fill="#b3b5b9"/>
<circle cx="125.10" cy="343.00" r="2.20" fill="#b3b5b9"/>
<line x1="153.50" y1="313.60" x2="153.50" y2="331.00" stroke="#1d4f7c" stroke-width="1.0" />
<line x1="149.50" y1="313.60" x2="157.50" y2="313.60" stroke="#1d4f7c" stroke-width="1.0" />
<line x1="149.50" y1="331.00" x2="157.50" y2="331.00" stroke="#1d4f7c" stroke-width="1.0" />
<polygon points="148.60,313.01 151.00,317.33 146.20,317.33" fill="#1d4f7c"/>
<polygon points="157.80,317.41 160.20,321.73 155.40,321.73" fill="#1d4f7c"/>
<polygon points="153.50,329.41 155.90,333.73 151.10,333.73" fill="#1d4f7c"/>
<rect x="93.30" y="252.00" width="4.40" height="4.40" fill="#c8102e" />
<text x="101.90" y="257.10" font-size="10.0" textLength="60.20" lengthAdjust="spacingAndGlyphs" fill="#231f20"  stroke="#231f20" stroke-width="0.12">No Treatment</text>
<circle cx="95.50" cy="269.60" r="2.00" fill="#a6a8ad"/>
<text x="101.90" y="272.90" font-size="10.0" textLength="34.90" lengthAdjust="spacingAndGlyphs" fill="#231f20"  stroke="#231f20" stroke-width="0.12">TL1A-Ig</text>
<polygon points="95.60,283.68 97.75,287.55 93.45,287.55" fill="#1d4f7c"/>
<text x="101.90" y="288.80" font-size="10.0" textLength="65.20" lengthAdjust="spacingAndGlyphs" fill="#231f20"  stroke="#231f20" stroke-width="0.12">TL1A-Ig+IL-2<tspan dy="2.6" font-size="6.6">LD</tspan><tspan dy="-2.6"> </tspan></text>
<text transform="translate(36.00,385.50) rotate(-90)" font-size="13.0" textLength="96.50" lengthAdjust="spacingAndGlyphs" fill="#231f20"  stroke="#231f20" stroke-width="0.3">% CD4<tspan dy="-4.3" font-size="10.5">+</tspan><tspan dy="4.3"> </tspan>FoxP3<tspan dy="-4.3" font-size="10.5">+</tspan><tspan dy="4.3"> </tspan>/ CD4<tspan dy="-4.3" font-size="10.5">+</tspan><tspan dy="4.3"> </tspan></text>
<text transform="translate(51.50,365.00) rotate(-90)" font-size="13.0" textLength="59.50" lengthAdjust="spacingAndGlyphs" fill="#231f20"  stroke="#231f20" stroke-width="0.3">(TNFRSF25<tspan dy="-4.3" font-size="9.5">-/-</tspan><tspan dy="4.3">)</tspan></text>
<line x1="287.70" y1="262.00" x2="287.70" y2="408.80" stroke="#0a0a0a" stroke-width="1.35" />
<line x1="284.00" y1="408.20" x2="287.70" y2="408.20" stroke="#0a0a0a" stroke-width="1.35" />
<line x1="284.00" y1="372.60" x2="287.70" y2="372.60" stroke="#0a0a0a" stroke-width="1.35" />
<line x1="284.00" y1="337.00" x2="287.70" y2="337.00" stroke="#0a0a0a" stroke-width="1.35" />
<line x1="284.00" y1="301.40" x2="287.70" y2="301.40" stroke="#0a0a0a" stroke-width="1.35" />
<line x1="284.00" y1="265.80" x2="287.70" y2="265.80" stroke="#0a0a0a" stroke-width="1.35" />
<line x1="285.80" y1="390.40" x2="287.70" y2="390.40" stroke="#0a0a0a" stroke-width="1.2" />
<line x1="285.80" y1="354.80" x2="287.70" y2="354.80" stroke="#0a0a0a" stroke-width="1.2" />
<line x1="285.80" y1="319.20" x2="287.70" y2="319.20" stroke="#0a0a0a" stroke-width="1.2" />
<line x1="285.80" y1="283.60" x2="287.70" y2="283.60" stroke="#0a0a0a" stroke-width="1.2" />
<text x="279.80" y="411.70" font-size="10.4" text-anchor="end" fill="#231f20"  stroke="#231f20" stroke-width="0.12">0</text>
<text x="279.80" y="376.10" font-size="10.4" text-anchor="end" fill="#231f20"  stroke="#231f20" stroke-width="0.12">10</text>
<text x="279.80" y="340.50" font-size="10.4" text-anchor="end" fill="#231f20"  stroke="#231f20" stroke-width="0.12">20</text>
<text x="279.80" y="304.90" font-size="10.4" text-anchor="end" fill="#231f20"  stroke="#231f20" stroke-width="0.12">30</text>
<text x="279.80" y="269.30" font-size="10.4" text-anchor="end" fill="#231f20"  stroke="#231f20" stroke-width="0.12">40</text>
<line x1="283.80" y1="408.20" x2="382.70" y2="408.20" stroke="#0a0a0a" stroke-width="1.45" />
<line x1="306.20" y1="341.70" x2="306.20" y2="353.30" stroke="#c8102e" stroke-width="1.0" />
<line x1="302.20" y1="341.70" x2="310.20" y2="341.70" stroke="#c8102e" stroke-width="1.0" />
<line x1="302.20" y1="353.30" x2="310.20" y2="353.30" stroke="#c8102e" stroke-width="1.0" />
<rect x="304.00" y="339.50" width="4.40" height="4.40" fill="#c8102e" />
<rect x="300.10" y="350.10" width="4.40" height="4.40" fill="#c8102e" />
<rect x="308.20" y="346.80" width="4.40" height="4.40" fill="#c8102e" />
<line x1="335.00" y1="318.00" x2="335.00" y2="326.00" stroke="#b3b5b9" stroke-width="1.0" />
<line x1="331.00" y1="318.00" x2="339.00" y2="318.00" stroke="#b3b5b9" stroke-width="1.0" />
<line x1="331.00" y1="326.00" x2="339.00" y2="326.00" stroke="#b3b5b9" stroke-width="1.0" />
<circle cx="331.00" cy="318.50" r="2.20" fill="#b3b5b9"/>
<circle cx="339.80" cy="318.80" r="2.20" fill="#b3b5b9"/>
<circle cx="335.00" cy="324.60" r="2.20" fill="#b3b5b9"/>
<line x1="363.40" y1="275.50" x2="363.40" y2="290.70" stroke="#1d4f7c" stroke-width="1.0" />
<line x1="359.40" y1="275.50" x2="367.40" y2="275.50" stroke="#1d4f7c" stroke-width="1.0" />
<line x1="359.40" y1="290.70" x2="367.40" y2="290.70" stroke="#1d4f7c" stroke-width="1.0" />
<polygon points="363.40,272.91 365.80,277.23 361.00,277.23" fill="#1d4f7c"/>
<polygon points="363.40,280.61 365.80,284.93 361.00,284.93" fill="#1d4f7c"/>
<polygon points="363.40,287.41 365.80,291.73 361.00,291.73" fill="#1d4f7c"/>
<line x1="306.40" y1="255.90" x2="363.50" y2="255.90" stroke="#6d6e71" stroke-width="1.2" />
<polygon points="327.80,248.30 328.39,249.88 330.08,249.96 328.76,251.01 329.21,252.64 327.80,251.71 326.39,252.64 326.84,251.01 325.52,249.96 327.21,249.88" fill="#111"/>
<polygon points="332.40,248.30 332.99,249.88 334.68,249.96 333.36,251.01 333.81,252.64 332.40,251.71 330.99,252.64 331.44,251.01 330.12,249.96 331.81,249.88" fill="#111"/>
<polygon points="337.00,248.30 337.59,249.88 339.28,249.96 337.96,251.01 338.41,252.64 337.00,251.71 335.59,252.64 336.04,251.01 334.72,249.96 336.41,249.88" fill="#111"/>
<polygon points="341.60,248.30 342.19,249.88 343.88,249.96 342.56,251.01 343.01,252.64 341.60,251.71 340.19,252.64 340.64,251.01 339.32,249.96 341.01,249.88" fill="#111"/>
<line x1="334.60" y1="267.70" x2="363.50" y2="267.70" stroke="#6d6e71" stroke-width="1.2" />
<polygon points="344.50,260.00 345.09,261.58 346.78,261.66 345.46,262.71 345.91,264.34 344.50,263.41 343.09,264.34 343.54,262.71 342.22,261.66 343.91,261.58" fill="#111"/>
<polygon points="349.10,260.00 349.69,261.58 351.38,261.66 350.06,262.71 350.51,264.34 349.10,263.41 347.69,264.34 348.14,262.71 346.82,261.66 348.51,261.58" fill="#111"/>
<polygon points="353.70,260.00 354.29,261.58 355.98,261.66 354.66,262.71 355.11,264.34 353.70,263.41 352.29,264.34 352.74,262.71 351.42,261.66 353.11,261.58" fill="#111"/>
<line x1="306.40" y1="292.40" x2="335.00" y2="292.40" stroke="#6d6e71" stroke-width="1.2" />
<polygon points="318.40,284.90 318.99,286.48 320.68,286.56 319.36,287.61 319.81,289.24 318.40,288.31 316.99,289.24 317.44,287.61 316.12,286.56 317.81,286.48" fill="#111"/>
<polygon points="323.00,284.90 323.59,286.48 325.28,286.56 323.96,287.61 324.41,289.24 323.00,288.31 321.59,289.24 322.04,287.61 320.72,286.56 322.41,286.48" fill="#111"/>
<text transform="translate(245.50,385.00) rotate(-90)" font-size="13.0" textLength="98.00" lengthAdjust="spacingAndGlyphs" fill="#231f20"  stroke="#231f20" stroke-width="0.3">% CD4<tspan dy="-4.3" font-size="10.5">+</tspan><tspan dy="4.3"> </tspan>FoxP3<tspan dy="-4.3" font-size="10.5">+</tspan><tspan dy="4.3"> </tspan>/ CD4<tspan dy="-4.3" font-size="10.5">+</tspan><tspan dy="4.3"> </tspan></text>
<text transform="translate(261.50,368.00) rotate(-90)" font-size="13.0" textLength="69.00" lengthAdjust="spacingAndGlyphs" fill="#231f20"  stroke="#231f20" stroke-width="0.3">(TNFRSF25<tspan dy="-4.3" font-size="9.5">+/+</tspan><tspan dy="4.3">)</tspan></text>
<text x="9.40" y="434.80" font-size="15.0" font-weight="bold" fill="#000" stroke="#000" stroke-width="0.45">D</text>
<line x1="77.40" y1="434.70" x2="77.40" y2="585.80" stroke="#0a0a0a" stroke-width="1.35" />
<line x1="73.90" y1="585.30" x2="77.40" y2="585.30" stroke="#0a0a0a" stroke-width="1.35" />
<line x1="73.90" y1="560.80" x2="77.40" y2="560.80" stroke="#0a0a0a" stroke-width="1.35" />
<line x1="73.90" y1="536.30" x2="77.40" y2="536.30" stroke="#0a0a0a" stroke-width="1.35" />
<line x1="73.90" y1="511.80" x2="77.40" y2="511.80" stroke="#0a0a0a" stroke-width="1.35" />
<line x1="73.90" y1="487.30" x2="77.40" y2="487.30" stroke="#0a0a0a" stroke-width="1.35" />
<line x1="73.90" y1="462.80" x2="77.40" y2="462.80" stroke="#0a0a0a" stroke-width="1.35" />
<line x1="73.90" y1="438.30" x2="77.40" y2="438.30" stroke="#0a0a0a" stroke-width="1.35" />
<line x1="75.60" y1="579.17" x2="77.40" y2="579.17" stroke="#0a0a0a" stroke-width="1.2" />
<line x1="75.60" y1="573.05" x2="77.40" y2="573.05" stroke="#0a0a0a" stroke-width="1.2" />
<line x1="75.60" y1="566.92" x2="77.40" y2="566.92" stroke="#0a0a0a" stroke-width="1.2" />
<line x1="75.60" y1="554.67" x2="77.40" y2="554.67" stroke="#0a0a0a" stroke-width="1.2" />
<line x1="75.60" y1="548.55" x2="77.40" y2="548.55" stroke="#0a0a0a" stroke-width="1.2" />
<line x1="75.60" y1="542.42" x2="77.40" y2="542.42" stroke="#0a0a0a" stroke-width="1.2" />
<line x1="75.60" y1="530.17" x2="77.40" y2="530.17" stroke="#0a0a0a" stroke-width="1.2" />
<line x1="75.60" y1="524.05" x2="77.40" y2="524.05" stroke="#0a0a0a" stroke-width="1.2" />
<line x1="75.60" y1="517.92" x2="77.40" y2="517.92" stroke="#0a0a0a" stroke-width="1.2" />
<line x1="75.60" y1="505.67" x2="77.40" y2="505.67" stroke="#0a0a0a" stroke-width="1.2" />
<line x1="75.60" y1="499.55" x2="77.40" y2="499.55" stroke="#0a0a0a" stroke-width="1.2" />
<line x1="75.60" y1="493.42" x2="77.40" y2="493.42" stroke="#0a0a0a" stroke-width="1.2" />
<line x1="75.60" y1="481.17" x2="77.40" y2="481.17" stroke="#0a0a0a" stroke-width="1.2" />
<line x1="75.60" y1="475.05" x2="77.40" y2="475.05" stroke="#0a0a0a" stroke-width="1.2" />
<line x1="75.60" y1="468.92" x2="77.40" y2="468.92" stroke="#0a0a0a" stroke-width="1.2" />
<line x1="75.60" y1="456.67" x2="77.40" y2="456.67" stroke="#0a0a0a" stroke-width="1.2" />
<line x1="75.60" y1="450.55" x2="77.40" y2="450.55" stroke="#0a0a0a" stroke-width="1.2" />
<line x1="75.60" y1="444.42" x2="77.40" y2="444.42" stroke="#0a0a0a" stroke-width="1.2" />
<text x="69.60" y="588.90" font-size="10.4" text-anchor="end" fill="#231f20"  stroke="#231f20" stroke-width="0.12">0</text>
<text x="69.60" y="564.40" font-size="10.4" text-anchor="end" fill="#231f20"  stroke="#231f20" stroke-width="0.12">10</text>
<text x="69.60" y="539.90" font-size="10.4" text-anchor="end" fill="#231f20"  stroke="#231f20" stroke-width="0.12">20</text>
<text x="69.60" y="515.40" font-size="10.4" text-anchor="end" fill="#231f20"  stroke="#231f20" stroke-width="0.12">30</text>
<text x="69.60" y="490.90" font-size="10.4" text-anchor="end" fill="#231f20"  stroke="#231f20" stroke-width="0.12">40</text>
<text x="69.60" y="466.40" font-size="10.4" text-anchor="end" fill="#231f20"  stroke="#231f20" stroke-width="0.12">50</text>
<text x="69.60" y="441.90" font-size="10.4" text-anchor="end" fill="#231f20"  stroke="#231f20" stroke-width="0.12">60</text>
<line x1="73.90" y1="585.20" x2="175.00" y2="585.20" stroke="#0a0a0a" stroke-width="1.45" />
<line x1="97.30" y1="530.80" x2="97.30" y2="546.50" stroke="#c8102e" stroke-width="1.0" />
<line x1="93.30" y1="530.80" x2="101.30" y2="530.80" stroke="#c8102e" stroke-width="1.0" />
<line x1="93.30" y1="546.50" x2="101.30" y2="546.50" stroke="#c8102e" stroke-width="1.0" />
<rect x="95.10" y="528.00" width="4.40" height="4.40" fill="#c8102e" />
<rect x="90.30" y="542.40" width="4.40" height="4.40" fill="#c8102e" />
<rect x="99.50" y="541.30" width="4.40" height="4.40" fill="#c8102e" />
<line x1="126.30" y1="516.90" x2="126.30" y2="549.60" stroke="#b3b5b9" stroke-width="1.0" />
<line x1="122.30" y1="516.90" x2="130.30" y2="516.90" stroke="#b3b5b9" stroke-width="1.0" />
<line x1="122.30" y1="549.60" x2="130.30" y2="549.60" stroke="#b3b5b9" stroke-width="1.0" />
<circle cx="126.30" cy="515.40" r="2.20" fill="#b3b5b9"/>
<circle cx="126.30" cy="538.50" r="2.20" fill="#b3b5b9"/>
<circle cx="126.30" cy="545.60" r="2.20" fill="#b3b5b9"/>
<line x1="156.00" y1="515.00" x2="156.00" y2="540.80" stroke="#1d4f7c" stroke-width="1.0" />
<line x1="152.00" y1="515.00" x2="160.00" y2="515.00" stroke="#1d4f7c" stroke-width="1.0" />
<line x1="152.00" y1="540.80" x2="160.00" y2="540.80" stroke="#1d4f7c" stroke-width="1.0" />
<polygon points="156.00,511.21 158.40,515.53 153.60,515.53" fill="#1d4f7c"/>
<polygon points="151.70,535.31 154.10,539.63 149.30,539.63" fill="#1d4f7c"/>
<polygon points="160.40,531.11 162.80,535.43 158.00,535.43" fill="#1d4f7c"/>
<rect x="93.30" y="437.20" width="4.40" height="4.40" fill="#c8102e" />
<text x="101.90" y="442.30" font-size="10.0" textLength="60.20" lengthAdjust="spacingAndGlyphs" fill="#231f20"  stroke="#231f20" stroke-width="0.12">No Treatment</text>
<circle cx="95.50" cy="454.60" r="2.00" fill="#a6a8ad"/>
<text x="101.90" y="457.70" font-size="10.0" textLength="34.90" lengthAdjust="spacingAndGlyphs" fill="#231f20"  stroke="#231f20" stroke-width="0.12">TL1A-Ig</text>
<polygon points="95.60,468.68 97.75,472.55 93.45,472.55" fill="#1d4f7c"/>
<text x="101.90" y="473.10" font-size="10.0" textLength="65.20" lengthAdjust="spacingAndGlyphs" fill="#231f20"  stroke="#231f20" stroke-width="0.12">TL1A-Ig+IL-2<tspan dy="2.6" font-size="6.6">LD</tspan><tspan dy="-2.6"> </tspan></text>
<text transform="translate(50.70,573.50) rotate(-90)" font-size="13.0" textLength="128.00" lengthAdjust="spacingAndGlyphs" fill="#231f20"  stroke="#231f20" stroke-width="0.3">% Ki67<tspan dy="-4.3" font-size="10.5">+</tspan><tspan dy="4.3"> </tspan>/Tregs (TNFRSF25<tspan dy="-4.3" font-size="9.5">-/-</tspan><tspan dy="4.3">)</tspan></text>
<line x1="288.50" y1="434.70" x2="288.50" y2="585.90" stroke="#0a0a0a" stroke-width="1.35" />
<line x1="284.70" y1="585.30" x2="288.50" y2="585.30" stroke="#0a0a0a" stroke-width="1.35" />
<line x1="284.70" y1="560.80" x2="288.50" y2="560.80" stroke="#0a0a0a" stroke-width="1.35" />
<line x1="284.70" y1="536.30" x2="288.50" y2="536.30" stroke="#0a0a0a" stroke-width="1.35" />
<line x1="284.70" y1="511.80" x2="288.50" y2="511.80" stroke="#0a0a0a" stroke-width="1.35" />
<line x1="284.70" y1="487.30" x2="288.50" y2="487.30" stroke="#0a0a0a" stroke-width="1.35" />
<line x1="284.70" y1="462.80" x2="288.50" y2="462.80" stroke="#0a0a0a" stroke-width="1.35" />
<line x1="284.70" y1="438.30" x2="288.50" y2="438.30" stroke="#0a0a0a" stroke-width="1.35" />
<line x1="286.60" y1="579.17" x2="288.50" y2="579.17" stroke="#0a0a0a" stroke-width="1.2" />
<line x1="286.60" y1="573.05" x2="288.50" y2="573.05" stroke="#0a0a0a" stroke-width="1.2" />
<line x1="286.60" y1="566.92" x2="288.50" y2="566.92" stroke="#0a0a0a" stroke-width="1.2" />
<line x1="286.60" y1="554.67" x2="288.50" y2="554.67" stroke="#0a0a0a" stroke-width="1.2" />
<line x1="286.60" y1="548.55" x2="288.50" y2="548.55" stroke="#0a0a0a" stroke-width="1.2" />
<line x1="286.60" y1="542.42" x2="288.50" y2="542.42" stroke="#0a0a0a" stroke-width="1.2" />
<line x1="286.60" y1="530.17" x2="288.50" y2="530.17" stroke="#0a0a0a" stroke-width="1.2" />
<line x1="286.60" y1="524.05" x2="288.50" y2="524.05" stroke="#0a0a0a" stroke-width="1.2" />
<line x1="286.60" y1="517.92" x2="288.50" y2="517.92" stroke="#0a0a0a" stroke-width="1.2" />
<line x1="286.60" y1="505.67" x2="288.50" y2="505.67" stroke="#0a0a0a" stroke-width="1.2" />
<line x1="286.60" y1="499.55" x2="288.50" y2="499.55" stroke="#0a0a0a" stroke-width="1.2" />
<line x1="286.60" y1="493.42" x2="288.50" y2="493.42" stroke="#0a0a0a" stroke-width="1.2" />
<line x1="286.60" y1="481.17" x2="288.50" y2="481.17" stroke="#0a0a0a" stroke-width="1.2" />
<line x1="286.60" y1="475.05" x2="288.50" y2="475.05" stroke="#0a0a0a" stroke-width="1.2" />
<line x1="286.60" y1="468.92" x2="288.50" y2="468.92" stroke="#0a0a0a" stroke-width="1.2" />
<line x1="286.60" y1="456.67" x2="288.50" y2="456.67" stroke="#0a0a0a" stroke-width="1.2" />
<line x1="286.60" y1="450.55" x2="288.50" y2="450.55" stroke="#0a0a0a" stroke-width="1.2" />
<line x1="286.60" y1="444.42" x2="288.50" y2="444.42" stroke="#0a0a0a" stroke-width="1.2" />
<text x="280.50" y="588.90" font-size="10.4" text-anchor="end" fill="#231f20"  stroke="#231f20" stroke-width="0.12">0</text>
<text x="280.50" y="564.40" font-size="10.4" text-anchor="end" fill="#231f20"  stroke="#231f20" stroke-width="0.12">10</text>
<text x="280.50" y="539.90" font-size="10.4" text-anchor="end" fill="#231f20"  stroke="#231f20" stroke-width="0.12">20</text>
<text x="280.50" y="515.40" font-size="10.4" text-anchor="end" fill="#231f20"  stroke="#231f20" stroke-width="0.12">30</text>
<text x="280.50" y="490.90" font-size="10.4" text-anchor="end" fill="#231f20"  stroke="#231f20" stroke-width="0.12">40</text>
<text x="280.50" y="466.40" font-size="10.4" text-anchor="end" fill="#231f20"  stroke="#231f20" stroke-width="0.12">50</text>
<text x="280.50" y="441.90" font-size="10.4" text-anchor="end" fill="#231f20"  stroke="#231f20" stroke-width="0.12">60</text>
<line x1="284.60" y1="585.40" x2="387.70" y2="585.40" stroke="#0a0a0a" stroke-width="1.45" />
<line x1="307.80" y1="512.20" x2="307.80" y2="529.20" stroke="#c8102e" stroke-width="1.0" />
<line x1="303.80" y1="512.20" x2="311.80" y2="512.20" stroke="#c8102e" stroke-width="1.0" />
<line x1="303.80" y1="529.20" x2="311.80" y2="529.20" stroke="#c8102e" stroke-width="1.0" />
<rect x="305.60" y="508.50" width="4.40" height="4.40" fill="#c8102e" />
<rect x="300.40" y="523.60" width="4.40" height="4.40" fill="#c8102e" />
<rect x="309.80" y="522.10" width="4.40" height="4.40" fill="#c8102e" />
<line x1="337.80" y1="465.40" x2="337.80" y2="490.90" stroke="#b3b5b9" stroke-width="1.0" />
<line x1="333.80" y1="465.40" x2="341.80" y2="465.40" stroke="#b3b5b9" stroke-width="1.0" />
<line x1="333.80" y1="490.90" x2="341.80" y2="490.90" stroke="#b3b5b9" stroke-width="1.0" />
<circle cx="337.80" cy="465.40" r="2.20" fill="#b3b5b9"/>
<circle cx="337.80" cy="476.70" r="2.20" fill="#b3b5b9"/>
<circle cx="337.80" cy="490.90" r="2.20" fill="#b3b5b9"/>
<line x1="367.00" y1="463.40" x2="367.00" y2="490.00" stroke="#1d4f7c" stroke-width="1.0" />
<line x1="363.00" y1="463.40" x2="371.00" y2="463.40" stroke="#1d4f7c" stroke-width="1.0" />
<line x1="363.00" y1="490.00" x2="371.00" y2="490.00" stroke="#1d4f7c" stroke-width="1.0" />
<polygon points="367.00,459.41 369.40,463.73 364.60,463.73" fill="#1d4f7c"/>
<polygon points="367.00,479.21 369.40,483.53 364.60,483.53" fill="#1d4f7c"/>
<polygon points="367.00,485.41 369.40,489.73 364.60,489.73" fill="#1d4f7c"/>
<line x1="308.40" y1="442.70" x2="367.00" y2="442.70" stroke="#6d6e71" stroke-width="1.2" />
<polygon points="335.30,434.90 335.89,436.48 337.58,436.56 336.26,437.61 336.71,439.24 335.30,438.31 333.89,439.24 334.34,437.61 333.02,436.56 334.71,436.48" fill="#111"/>
<polygon points="339.90,434.90 340.49,436.48 342.18,436.56 340.86,437.61 341.31,439.24 339.90,438.31 338.49,439.24 338.94,437.61 337.62,436.56 339.31,436.48" fill="#111"/>
<line x1="308.50" y1="455.70" x2="337.20" y2="455.70" stroke="#6d6e71" stroke-width="1.2" />
<polygon points="320.70,448.40 321.29,449.98 322.98,450.06 321.66,451.11 322.11,452.74 320.70,451.81 319.29,452.74 319.74,451.11 318.42,450.06 320.11,449.98" fill="#111"/>
<polygon points="325.30,448.40 325.89,449.98 327.58,450.06 326.26,451.11 326.71,452.74 325.30,451.81 323.89,452.74 324.34,451.11 323.02,450.06 324.71,449.98" fill="#111"/>
<text transform="translate(262.50,577.00) rotate(-90)" font-size="13.0" textLength="134.00" lengthAdjust="spacingAndGlyphs" fill="#231f20"  stroke="#231f20" stroke-width="0.3">% Ki67<tspan dy="-4.3" font-size="10.5">+</tspan><tspan dy="4.3"> </tspan>/Tregs (TNFRSF25<tspan dy="-4.3" font-size="9.5">+/+</tspan><tspan dy="4.3">)</tspan></text>
<rect x="0.5" y="0.5" width="519" height="599" fill="none" stroke="#2b2b2b" stroke-width="1"/>
</svg>
</body></html>
